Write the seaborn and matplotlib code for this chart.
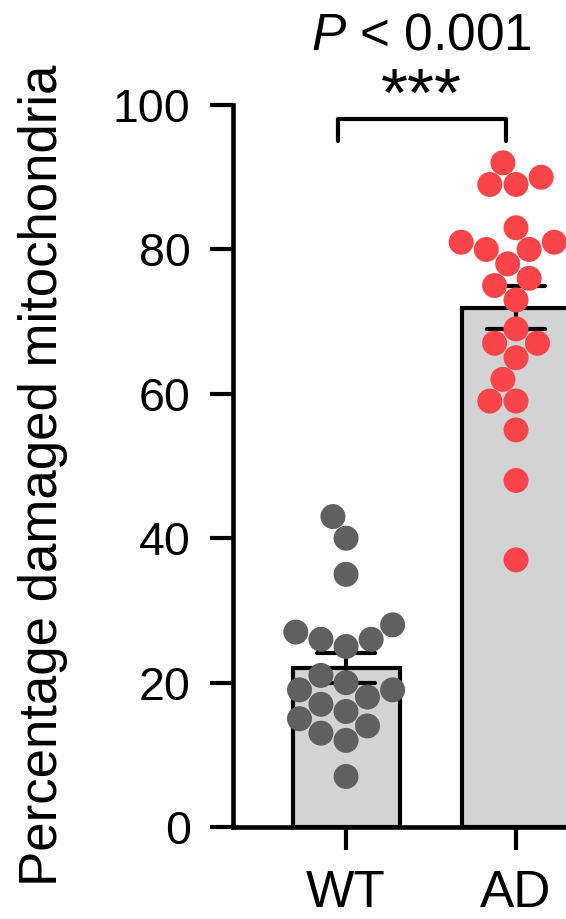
import numpy as np
import pandas as pd
import matplotlib
matplotlib.use('Agg')
import matplotlib.pyplot as plt
import matplotlib.transforms as mtransforms
import seaborn as sns

# Groups and per-animal values
groups = ['WT', 'AD']
wt_values = [43, 40, 35, 28, 27, 26, 26, 25, 21, 20, 19, 19, 18, 17, 16, 15, 14, 13, 12, 7]
ad_values = [92, 90, 89, 89, 83, 81, 81, 80, 80, 78, 76, 75, 73, 69, 67, 67, 65, 62, 59, 59, 55, 48, 37]
y_ticks = [0, 20, 40, 60, 80, 100]
p_label = '$P$ < 0.001'
sig_label = '***'

df = pd.DataFrame({
    'group': ['WT'] * len(wt_values) + ['AD'] * len(ad_values),
    'value': wt_values + ad_values,
})

sns.set_style('ticks')
plt.rcParams['font.family'] = ['Liberation Sans', 'DejaVu Sans']
plt.rcParams['mathtext.fontset'] = 'custom'
plt.rcParams['mathtext.rm'] = 'Liberation Sans'
plt.rcParams['mathtext.it'] = 'Liberation Sans:italic'
for key in ['text.color', 'axes.labelcolor', 'xtick.color', 'ytick.color', 'axes.edgecolor']:
    plt.rcParams[key] = 'black'

fig = plt.figure(figsize=(5.66, 9.19), dpi=100)
ax = fig.add_axes([0.4117, 0.1001, 0.5883, 0.7856])

lw = 3.0
sns.barplot(data=df, x='group', y='value', order=groups, errorbar='se',
            capsize=0.34, width=0.63, color='#d3d3d3', saturation=1,
            edgecolor='black', linewidth=lw,
            err_kws={'color': 'black', 'linewidth': lw}, ax=ax, zorder=1)

sns.swarmplot(data=df, x='group', y='value', order=groups, hue='group',
              palette={'WT': '#606060', 'AD': '#f94449'}, size=18,
              linewidth=0, legend=False, ax=ax, zorder=3)

ax.set_xlim(-0.665, 1.294)
ax.set_ylim(0, 100)
ax.set_yticks(y_ticks)
ax.set_xlabel('')
ax.set_ylabel('Percentage damaged mitochondria', fontsize=38, labelpad=32)
ax.yaxis.label.set_y(0.487)
ax.tick_params(axis='y', labelsize=33.5, length=16.5, width=lw, pad=14)
ax.tick_params(axis='x', labelsize=37, length=16.5, width=lw, pad=14)
sns.despine(ax=ax)
for side in ['left', 'bottom']:
    ax.spines[side].set_linewidth(3.3)

# significance bracket between the two groups
x0, x1 = 0 - 0.05, 1 - 0.06
ax.plot([x0, x0, x1, x1], [95, 98, 98, 95], color='black', lw=lw, clip_on=False)
xc = (x0 + x1) / 2
ax.text(xc, 98.5, sig_label, ha='center', va='baseline', fontsize=50)
trans = mtransforms.blended_transform_factory(ax.transData, fig.transFigure)
ax.text(xc, 0.9456, p_label, transform=trans, ha='center', va='baseline', fontsize=37)

fig.savefig('out.png', dpi=100)
